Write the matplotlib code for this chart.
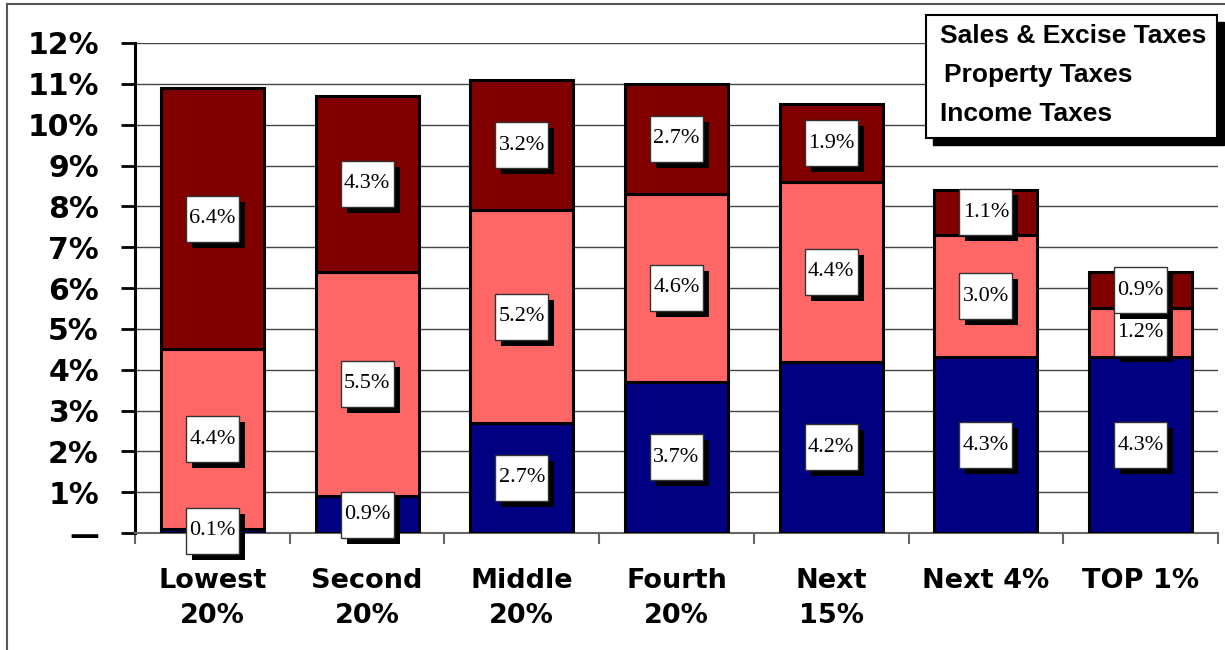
import matplotlib
matplotlib.use("Agg")
import matplotlib.pyplot as plt
import matplotlib.patheffects as pe
import numpy as np
from matplotlib.path import Path
from matplotlib.patches import Rectangle
from matplotlib.lines import Line2D

categories = ["Lowest\n20%", "Second\n20%", "Middle\n20%", "Fourth\n20%", "Next\n15%", "Next 4%", "TOP 1%"]
income = [0.1, 0.9, 2.7, 3.7, 4.2, 4.3, 4.3]
property_ = [4.4, 5.5, 5.2, 4.6, 4.4, 3.0, 1.2]
sales = [6.4, 4.3, 3.2, 2.7, 1.9, 1.1, 0.9]
series_names = ["Sales & Excise Taxes", "Property Taxes", "Income Taxes"]
yticks = list(range(0, 13))
yticklabels = ["\u2014"] + [f"{v}%" for v in range(1, 13)]

colors = {"income": "#000080", "property": "#FF6666", "sales": "#800000"}

fig = plt.figure(figsize=(12.25, 6.5), dpi=100)
ax = fig.add_axes([135 / 1225, 117 / 650, 1083 / 1225, 490 / 650])

x = np.arange(len(categories))
w = 0.665
inc = np.array(income)
prop = np.array(property_)
sal = np.array(sales)
ax.bar(x, inc, w, color=colors["income"], edgecolor="black", linewidth=2.2, zorder=3)
ax.bar(x, prop, w, bottom=inc, color=colors["property"], edgecolor="black", linewidth=2.2, zorder=3)
ax.bar(x, sal, w, bottom=inc + prop, color=colors["sales"], edgecolor="black", linewidth=2.2, zorder=3)

BW, BH = 53, 46


def fixed_box(x0, y0, width, height, mutation_size):
    cx = x0 + width / 2
    cy = y0 + height / 2
    a, b = cx - BW / 2, cx + BW / 2
    c, d = cy - BH / 2, cy + BH / 2
    return Path([(a, c), (b, c), (b, d), (a, d), (a, c)], closed=True)


shadow = [pe.SimplePatchShadow(offset=(4.3, -4.3), shadow_rgbFace="black", alpha=1.0), pe.Normal()]


def label(xv, yv, val):
    t = ax.text(xv, yv, f"{val:.1f}%", ha="center", va="center", fontsize=16,
                family="Liberation Serif", color="black",
                bbox=dict(boxstyle=fixed_box, facecolor="white", edgecolor="#333333", linewidth=1),
                zorder=5)
    t.get_bbox_patch().set_path_effects(shadow)


for i in range(len(categories)):
    label(x[i], inc[i] / 2, inc[i])
    label(x[i], inc[i] + prop[i] / 2, prop[i])
    label(x[i], inc[i] + prop[i] + sal[i] / 2, sal[i])

ax.set_xlim(-0.5, len(categories) - 0.5)
ax.set_ylim(0, 12)
ax.set_yticks(yticks)
ax.set_yticklabels(yticklabels, fontsize=21.5, fontweight="bold", family="DejaVu Sans")
ax.set_xticks(x)
ax.set_xticklabels(categories, fontsize=19.5, fontweight="bold", family="DejaVu Sans", linespacing=1.45)
ax.set_xticks(np.arange(-0.5, len(categories)), minor=True)
ax.tick_params(axis="x", which="major", length=0, pad=25)
ax.tick_params(axis="x", which="minor", length=8, width=1.5, color="#666666", direction="out")
ax.tick_params(axis="y", which="major", length=10, width=2, color="black", pad=16)
ax.yaxis.grid(True, color="#444444", linewidth=1, zorder=0)
ax.set_axisbelow(True)
for s in ["top", "right"]:
    ax.spines[s].set_visible(False)
ax.spines["left"].set_linewidth(2.2)
ax.spines["left"].set_color("black")
ax.spines["bottom"].set_linewidth(1.5)
ax.spines["bottom"].set_color("#666666")

# legend box
lx0, lx1, ly0, ly1 = 926, 1217, 15, 138
fig.patches.append(Rectangle(((lx0 + 7) / 1225, 1 - (ly1 + 7) / 650), (lx1 - lx0) / 1225, (ly1 - ly0) / 650,
                             transform=fig.transFigure, facecolor="black", edgecolor="black", zorder=10))
fig.patches.append(Rectangle((lx0 / 1225, 1 - ly1 / 650), (lx1 - lx0) / 1225, (ly1 - ly0) / 650,
                             transform=fig.transFigure, facecolor="white", edgecolor="black", linewidth=1.5, zorder=11))
for name, xp, yp in zip(series_names, [940, 944, 940], [36, 75, 114]):
    fig.text(xp / 1225, 1 - yp / 650, name, fontsize=19, fontweight="bold", family="Liberation Sans",
             ha="left", va="center", zorder=12)

# outer frame
fig.add_artist(Line2D([7 / 1225, 7 / 1225], [0, 1 - 4 / 650], transform=fig.transFigure, color="#555555", linewidth=1.5))
fig.add_artist(Line2D([7 / 1225, 1], [1 - 4 / 650, 1 - 4 / 650], transform=fig.transFigure, color="#555555", linewidth=1.5))

fig.savefig("out.png", dpi=100)
